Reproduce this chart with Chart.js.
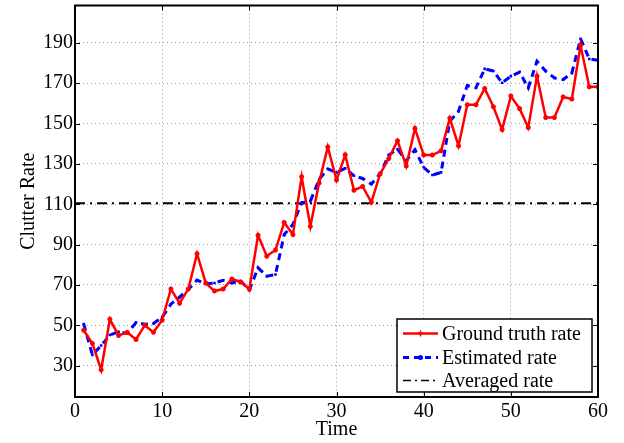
<!DOCTYPE html>
<html>
<head>
<meta charset="utf-8">
<script src="https://cdn.jsdelivr.net/npm/chart.js@4/dist/chart.umd.min.js"></script>
<style>
html,body{margin:0;padding:0;background:#fff;}
#wrap{width:624px;height:443px;}
</style>
</head>
<body>
<div id="wrap"><canvas id="c" width="624" height="443"></canvas></div>
<script>
const times = [1,2,3,4,5,6,7,8,9,10,11,12,13,14,15,16,17,18,19,20,21,22,23,24,25,26,27,28,29,30,31,32,33,34,35,36,37,38,39,40,41,42,43,44,45,46,47,48,49,50,51,52,53,54,55,56,57,58,59,60];
const groundTruth = [47.6,41,28,53,45,46.5,43,50,46.6,52.6,68,61,68,85.5,71,67,68,73,71.5,68,94.6,84.3,87.3,101,95,123.6,99,120.6,138.4,122,134.5,117,118.8,111,125,132.7,141.5,129,147.6,134.4,134.4,136.5,152.6,139,159.3,159.3,167.4,158.3,147,163.6,157.4,148,173.5,153,153,163.2,162.2,188.7,168.2,168.2];
const estimated = [50.7,35.3,40,45.2,46.8,46,51.4,50.6,50.9,54,60.5,64,67.8,72.4,70.6,71,72.3,71,72,67.5,78.5,74.4,75.2,95,100,110.7,111.5,122.3,127.5,125.8,127.8,124.1,122.8,120,125,134.4,137.3,131.6,137,128.3,124.5,125.8,151.2,156.1,168.8,167.7,177.1,176,170.2,173.5,175.5,167.7,180.9,176,172.6,171.8,175,192,182,181.4];
const averagedX = [0,60];
const averagedRate = [110.5,110.5];
const xTicks = [0,10,20,30,40,50,60];
const yTicks = [30,50,70,90,110,130,150,170,190];
const legendLabels = ['Ground truth rate','Estimated rate','Averaged rate'];

const FONT = 'Liberation Serif, Times New Roman, serif';

const boxPlugin = {
  id:'boxPlugin',
  afterDatasetsDraw(chart){
    const {ctx, chartArea:a, scales} = chart;
    ctx.save();
    ctx.strokeStyle = '#000'; ctx.lineWidth = 1; ctx.setLineDash([]);
    const tl = 5;
    xTicks.forEach(v=>{
      const px = Math.round(scales.x.getPixelForValue(v))+0.5;
      ctx.beginPath(); ctx.moveTo(px,a.bottom); ctx.lineTo(px,a.bottom-tl); ctx.stroke();
      ctx.beginPath(); ctx.moveTo(px,a.top); ctx.lineTo(px,a.top+tl); ctx.stroke();
    });
    yTicks.forEach(v=>{
      const py = Math.round(scales.y.getPixelForValue(v))+0.5;
      ctx.beginPath(); ctx.moveTo(a.left,py); ctx.lineTo(a.left+tl,py); ctx.stroke();
      ctx.beginPath(); ctx.moveTo(a.right,py); ctx.lineTo(a.right-tl,py); ctx.stroke();
    });
    ctx.lineWidth = 2;
    ctx.strokeRect(a.left, a.top, a.right-a.left, a.bottom-a.top);
    // legend
    const L = 397, T = 319, R = 592, B = 392;
    ctx.fillStyle = '#fff';
    ctx.fillRect(L,T,R-L,B-T);
    ctx.lineWidth = 1.5; ctx.strokeStyle='#000';
    ctx.strokeRect(L,T,R-L,B-T);
    const rows = [333.5,357.5,380.5];
    const x0 = 403, x1 = 438;
    ctx.font = '20px ' + FONT;
    ctx.textBaseline = 'middle';
    ctx.strokeStyle = '#ff0000'; ctx.lineWidth = 2.5;
    ctx.beginPath(); ctx.moveTo(x0,rows[0]); ctx.lineTo(x1,rows[0]); ctx.stroke();
    ctx.lineWidth = 1.5;
    const cx = (x0+x1)/2;
    ctx.beginPath(); ctx.moveTo(cx-3,rows[0]); ctx.lineTo(cx+3,rows[0]); ctx.moveTo(cx,rows[0]-3); ctx.lineTo(cx,rows[0]+3); ctx.stroke();
    ctx.strokeStyle = '#0000ff'; ctx.lineWidth = 3; ctx.setLineDash([6,5]);
    ctx.beginPath(); ctx.moveTo(x0,rows[1]); ctx.lineTo(x1,rows[1]); ctx.stroke();
    ctx.setLineDash([]);
    ctx.fillStyle = '#0000ff';
    ctx.beginPath(); ctx.arc(cx,rows[1],2.5,0,Math.PI*2); ctx.fill();
    ctx.strokeStyle = '#000'; ctx.lineWidth = 1.5; ctx.setLineDash([8,4,2,4]);
    ctx.beginPath(); ctx.moveTo(x0,rows[2]); ctx.lineTo(x1,rows[2]); ctx.stroke();
    ctx.setLineDash([]);
    ctx.fillStyle = '#000';
    legendLabels.forEach((t,i)=>ctx.fillText(t, 442, rows[i]+1));
    ctx.restore();
  }
};

new Chart(document.getElementById('c'), {
  type:'line',
  data:{
    datasets:[
      {
        label: legendLabels[2],
        data: averagedX.map((x,i)=>({x, y: averagedRate[i]})),
        borderColor:'#000', borderWidth:2, borderDash:[10,5,2,5],
        pointRadius:0, fill:false, order:3
      },
      {
        label: legendLabels[1],
        data: times.map((x,i)=>({x, y: estimated[i]})),
        borderColor:'#0000ff', backgroundColor:'#0000ff', borderWidth:3, borderDash:[7,5],
        pointRadius:1.8, pointStyle:'rect', pointBorderWidth:0, fill:false, order:2, tension:0
      },
      {
        label: legendLabels[0],
        data: times.map((x,i)=>({x, y: groundTruth[i]})),
        borderColor:'#ff0000', backgroundColor:'#ff0000', borderWidth:2.5,
        pointRadius:2.5, pointStyle:'star', pointBorderWidth:1.5, pointBorderColor:'#ff0000',
        fill:false, order:1, tension:0
      }
    ]
  },
  options:{
    responsive:false, animation:false,
    layout:{padding:{top:5,right:26,left:0,bottom:0}},
    plugins:{legend:{display:false}, tooltip:{enabled:false}},
    scales:{
      x:{
        type:'linear', min:0, max:60,
        afterBuildTicks(s){ s.ticks = xTicks.map(v=>({value:v})); },
        afterFit(s){ s.height = 46; s.paddingLeft = 0; s.paddingRight = 0; },
        grid:{color:'#999', lineWidth:1, drawTicks:false, tickLength:0},
        border:{display:false, dash:[1,3]},
        ticks:{color:'#000', font:{family:FONT,size:20}, padding:3, maxRotation:0},
        title:{display:true, text:'Time', color:'#000', font:{family:FONT,size:20}, padding:{top:0,bottom:1}}
      },
      y:{
        type:'linear', min:14.5, max:208.5,
        afterBuildTicks(s){ s.ticks = yTicks.map(v=>({value:v})); },
        afterFit(s){ s.width = 75; s.paddingTop = 0; s.paddingBottom = 0; },
        grid:{color:'#999', lineWidth:1, drawTicks:false, tickLength:0},
        border:{display:false, dash:[1,3]},
        ticks:{color:'#000', font:{family:FONT,size:20}, padding:2},
        title:{display:true, text:'Clutter Rate', color:'#000', font:{family:FONT,size:20}, padding:{top:17,bottom:0}}
      }
    }
  },
  plugins:[boxPlugin]
});
</script>
</body>
</html>
